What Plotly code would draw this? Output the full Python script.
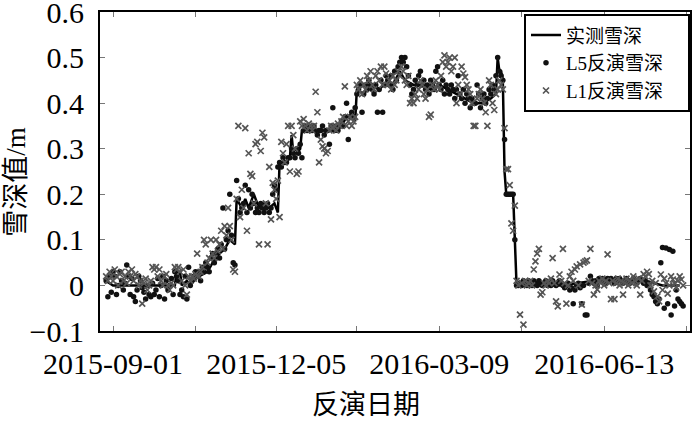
import pandas as pd
import plotly.graph_objects as go

# ---- data (day offsets are days since 2015-09-01) ----
base_date = "2015-09-01"

obs_day = [-4, 0, 10, 20, 30, 36, 37, 39, 40, 43, 45, 47, 50, 55, 58, 62, 65, 68, 71,
           72, 75, 77, 79, 82, 84, 86, 88, 91, 94, 96, 97, 100, 103, 104, 105, 107, 109,
           110, 115, 120, 125, 130, 133, 136, 140, 141, 142, 146, 150, 155, 160, 163, 167,
           170, 175, 180, 185, 190, 195, 200, 205, 210, 215, 220, 223, 224, 225, 226, 227,
           228, 229, 233, 234, 235, 240, 250, 260, 270, 280, 290, 300, 310, 320, 330]
obs_val = [0.01, 0.0, 0.0, 0.0, 0.0, 0.0, 0.03, 0.03, 0.0, 0.01, 0.0, 0.01, 0.02, 0.03, 0.05,
           0.07, 0.08, 0.1, 0.09, 0.19, 0.17, 0.19, 0.17, 0.2, 0.18, 0.17, 0.18, 0.17, 0.18,
           0.16, 0.27, 0.27, 0.28, 0.33, 0.29, 0.29, 0.3, 0.34, 0.34, 0.34, 0.34, 0.34, 0.35,
           0.37, 0.37, 0.36, 0.43, 0.42, 0.44, 0.43, 0.45, 0.44, 0.47, 0.45, 0.44, 0.44, 0.43,
           0.44, 0.43, 0.42, 0.41, 0.40, 0.40, 0.41, 0.42, 0.50, 0.47, 0.47, 0.45, 0.25, 0.2,
           0.2, 0.1, 0.0, 0.0, 0.0, 0.0, 0.005, 0.01, 0.01, 0.01, 0.01, 0.0, 0.0]

# L5 retrieval, one value per day from day -4
l5_start_day = -4
l5_val = [
    0.01, -0.025, 0.02, -0.015, 0.03, 0.02, -0.02, 0.0, 0.03, 0.01,
    -0.01, 0.005, 0.045, 0.02, -0.02, 0.015, -0.025, -0.035, -0.01, 0.02,
    0.01, -0.005, -0.015, -0.03, 0.0, -0.02, -0.025, 0.005, -0.02, -0.01,
    0.015, -0.025, 0.0, 0.02, -0.03, 0.01, -0.01, 0.0, 0.015, -0.02,
    0.03, 0.02, 0.01, -0.02, -0.01, -0.025, 0.02, -0.03, 0.04, 0.0,
    0.01, 0.02, 0.03, 0.02, 0.03, 0.01, 0.04, 0.03, 0.05, 0.04,
    0.03, 0.06, 0.07, 0.05, 0.07, 0.08, 0.06, 0.09, 0.17, 0.08,
    0.1, 0.12, 0.2, 0.11, 0.05, 0.045, 0.23, 0.19, 0.16, 0.17,
    0.18, 0.22, 0.16, 0.21, 0.17, 0.2, 0.18, 0.16, 0.17, 0.16,
    0.18, 0.17, 0.16, 0.17, 0.18, 0.16, 0.17, 0.2, 0.22, 0.21,
    0.26, 0.27, 0.26, 0.28, 0.27, 0.27, 0.28, 0.28, 0.3, 0.29,
    0.28, 0.3, 0.29, 0.31, 0.28, 0.34, 0.35, 0.34, 0.35, 0.34,
    0.34, 0.35, 0.34, 0.33, 0.34, 0.34, 0.35, 0.33, 0.34, 0.34,
    0.31, 0.35, 0.39, 0.34, 0.35, 0.34, 0.35, 0.36, 0.35, 0.37,
    0.4, 0.32, 0.37, 0.38, 0.37, 0.39, 0.42, 0.43, 0.44, 0.38,
    0.42, 0.44, 0.43, 0.45, 0.44, 0.43, 0.42, 0.44, 0.38, 0.43,
    0.45, 0.38, 0.44, 0.46, 0.45, 0.44, 0.46, 0.43, 0.47, 0.45,
    0.48, 0.49, 0.5, 0.49, 0.5, 0.48, 0.46, 0.44, 0.42, 0.43,
    0.45, 0.44, 0.46, 0.47, 0.44, 0.45, 0.43, 0.44, 0.42, 0.45,
    0.44, 0.43, 0.47, 0.48, 0.44, 0.43, 0.45, 0.42, 0.44, 0.43,
    0.42, 0.44, 0.43, 0.41, 0.43, 0.46, 0.42, 0.41, 0.43, 0.4,
    0.42, 0.41, 0.39, 0.41, 0.4, 0.4, 0.44, 0.42, 0.39, 0.41,
    0.42, 0.4, 0.41, 0.43, 0.42, 0.44, 0.43, 0.46, 0.5, 0.47,
    0.46, 0.45, 0.32, 0.2, 0.2, 0.2, 0.2, 0.2, 0.1, 0.0,
    0.0, 0.005, 0.0, 0.01, 0.005, 0.0, 0.01, 0.005, 0.0, 0.01,
    0.005, 0.0, 0.01, 0.005, 0.0, 0.005, 0.01, 0.0, 0.005, 0.0,
    0.01, 0.005, 0.0, 0.005, 0.01, 0.005, 0.0, -0.005, 0.0, 0.005,
    -0.01, -0.005, -0.04, -0.01, 0.0, 0.005, -0.005, -0.04, 0.0, -0.065,
    -0.065, 0.005, 0.02, 0.01, 0.005, 0.01, 0.0, 0.015, 0.01, 0.015,
    0.01, 0.005, 0.015, 0.01, 0.015, 0.01, 0.005, 0.015, 0.01, 0.015,
    0.01, 0.005, 0.01, 0.015, 0.01, 0.005, 0.01, 0.015, 0.01, 0.005,
    0.01, 0.015, 0.01, 0.005, 0.01, 0.0, 0.005, -0.01, -0.02, -0.025,
    -0.035, -0.04, -0.03, 0.05, 0.083, -0.05, 0.082, -0.04, 0.079, -0.065,
    0.075, -0.045, -0.01, -0.03, -0.035, -0.04, -0.045,
]

# L1 retrieval, one value per day from day -4
l1_start_day = -4
l1_val = [
    0.02, 0.01, 0.03, 0.02, 0.01, 0.035, 0.02, 0.0, 0.025, 0.03,
    0.01, 0.02, 0.005, 0.03, 0.02, 0.035, 0.01, 0.025, 0.02, 0.0,
    0.01, -0.04, 0.005, 0.015, -0.01, 0.0, 0.01, 0.04, 0.035, 0.04,
    0.02, 0.035, 0.01, 0.0, 0.02, 0.025, 0.0, -0.01, 0.005, 0.0,
    0.04, 0.035, 0.04, 0.03, 0.01, 0.035, 0.0, -0.02, 0.02, 0.01,
    0.02, 0.015, 0.025, 0.07, 0.02, 0.03, 0.04, 0.1, 0.09, 0.05,
    0.06, 0.1, 0.07, 0.06, 0.1, 0.075, 0.09, 0.12, 0.08, 0.13,
    0.11, 0.17, 0.13, 0.1, 0.035, 0.03, 0.19, 0.35, 0.15, 0.21,
    0.17, 0.345, 0.12, 0.29, 0.245, 0.24, 0.18, 0.31, 0.315, 0.09,
    0.295, 0.335, 0.325, 0.18, 0.09, 0.26, 0.145, 0.225, 0.21, 0.19,
    0.23, 0.15, 0.315, 0.29, 0.27, 0.31, 0.35, 0.25, 0.35, 0.33,
    0.3, 0.245, 0.25, 0.36, 0.35, 0.365, 0.35, 0.34, 0.355, 0.35,
    0.34, 0.35, 0.425, 0.38, 0.27, 0.32, 0.305, 0.3, 0.29, 0.295,
    0.34, 0.35, 0.345, 0.35, 0.34, 0.355, 0.35, 0.36, 0.37, 0.437,
    0.35, 0.36, 0.37, 0.35, 0.36, 0.37, 0.44, 0.43, 0.45, 0.42,
    0.44, 0.43, 0.46, 0.45, 0.47, 0.44, 0.43, 0.46, 0.47, 0.45,
    0.48, 0.44, 0.48, 0.465, 0.44, 0.45, 0.43, 0.46, 0.44, 0.45,
    0.47, 0.46, 0.48, 0.47, 0.45, 0.44, 0.46, 0.4, 0.41, 0.4,
    0.42, 0.41, 0.43, 0.45, 0.44, 0.42, 0.41, 0.43, 0.37, 0.375,
    0.44, 0.43, 0.45, 0.44, 0.43, 0.46, 0.49, 0.505, 0.48, 0.49,
    0.5, 0.47, 0.48, 0.5, 0.4, 0.44, 0.42, 0.48, 0.465, 0.457,
    0.44, 0.43, 0.42, 0.4, 0.35, 0.35, 0.41, 0.42, 0.43, 0.41,
    0.4, 0.38, 0.35, 0.45, 0.44, 0.4, 0.385, 0.42, 0.43, 0.45,
    0.44, 0.43, 0.345, 0.255, 0.255, 0.22, 0.136, 0.12, 0.175, 0.01,
    0.0, -0.064, 0.005, -0.086, 0.01, 0.0, 0.005, 0.01, 0.0, 0.035,
    0.053, 0.07, 0.08, -0.02, -0.015, 0.005, 0.0, 0.01, 0.005, 0.015,
    0.06, 0.005, -0.035, -0.046, 0.024, 0.01, 0.08, 0.005, -0.04, 0.0,
    0.02, 0.03, 0.01, 0.035, 0.042, 0.0, 0.046, -0.042, 0.05, 0.053,
    0.055, 0.01, 0.08, 0.005, -0.02, 0.0, -0.009, 0.01, 0.005, 0.015,
    0.0, 0.01, 0.068, 0.005, -0.03, 0.01, -0.03, 0.005, 0.015, 0.0,
    0.01, -0.02, 0.005, 0.015, 0.0, 0.01, 0.005, 0.02, 0.01, 0.0,
    0.015, -0.02, 0.01, 0.025, 0.02, 0.03, 0.025, 0.0, 0.01, -0.013,
    0.005, -0.024, -0.035, 0.024, -0.01, 0.015, 0.005, -0.018, 0.0, 0.02,
    0.013, 0.005, -0.005, 0.01, 0.02, 0.013, 0.0,
]

x_tick_labels = ["2015-09-01", "2015-12-05", "2016-03-09", "2016-06-13"]
x_minor_ticks = ["2015-10-19", "2016-01-21", "2016-04-26", "2016-07-31"]
x_range = ["2015-08-24 10:00", "2016-08-02"]
y_ticks = [-0.1, 0, 0.1, 0.2, 0.3, 0.4, 0.5, 0.6]
y_tick_labels = ["−0.1", "0", "0.1", "0.2", "0.3", "0.4", "0.5", "0.6"]

series_names = ["实测雪深", "L5反演雪深", "L1反演雪深"]
x_title = "反演日期"
y_title = "雪深值/m"

# ---- build ----
t0 = pd.Timestamp(base_date)
obs_dates = [t0 + pd.Timedelta(days=d) for d in obs_day]
l5_dates = [t0 + pd.Timedelta(days=l5_start_day + i) for i in range(len(l5_val))]
l1_dates = [t0 + pd.Timedelta(days=l1_start_day + i) for i in range(len(l1_val))]

FONT = '"Liberation Serif", "Times New Roman", "Noto Sans CJK SC", serif'
PAD = "\u00a0\u00a0\u00a0\u00a0"

fig = go.Figure()
fig.add_trace(go.Scatter(x=obs_dates, y=obs_val, mode="lines", name=series_names[0] + PAD,
                         line=dict(color="black", width=2.5)))
fig.add_trace(go.Scatter(x=l5_dates, y=l5_val, mode="markers", name=series_names[1] + PAD,
                         marker=dict(symbol="circle", size=5.5, color="#111111")))
fig.add_trace(go.Scatter(x=l1_dates, y=l1_val, mode="markers", name=series_names[2] + PAD,
                         marker=dict(symbol="x-thin", size=6, color="#555555",
                                     line=dict(width=1.7, color="#555555"))))

axis_common = dict(showline=True, linecolor="black", linewidth=2, mirror="ticks",
                   ticks="inside", ticklen=5, tickwidth=1, tickcolor="#777777",
                   showgrid=False, zeroline=False, automargin=False,
                   ticklabeloverflow="allow",
                   tickfont=dict(family=FONT, size=30, color="black"))

fig.update_xaxes(type="date", range=x_range, tickmode="array",
                 tickvals=x_tick_labels, ticktext=x_tick_labels,
                 ticklabelstandoff=5,
                 minor=dict(tickmode="array", tickvals=x_minor_ticks, ticks="inside",
                            ticklen=5, tickwidth=1, tickcolor="#777777"),
                 **axis_common)
fig.update_yaxes(range=[-0.1, 0.6], tickmode="array", tickvals=y_ticks,
                 ticktext=y_tick_labels, ticklabelstandoff=8,
                 **axis_common)

fig.add_annotation(text=x_title, xref="paper", yref="paper", x=0.451, y=-0.232,
                   xanchor="center", yanchor="middle", showarrow=False,
                   font=dict(family=FONT, size=27, color="black"))
fig.add_annotation(text=y_title, xref="paper", yref="paper", x=-0.143, y=0.467,
                   xanchor="center", yanchor="middle", showarrow=False, textangle=-90,
                   font=dict(family=FONT, size=27, color="black"))

fig.update_layout(
    width=700, height=425,
    margin=dict(l=100, r=10, t=12, b=94),
    paper_bgcolor="white", plot_bgcolor="white",
    showlegend=True,
    legend=dict(x=1, y=0.993, xanchor="right", yanchor="top",
                bgcolor="white", bordercolor="black", borderwidth=2,
                font=dict(family=FONT, size=19, color="black"),
                itemwidth=30, tracegroupgap=0),
)

fig.write_html("out.html", config={"displayModeBar": False},
               post_script="document.body.style.margin='0';document.body.style.overflow='hidden';")
